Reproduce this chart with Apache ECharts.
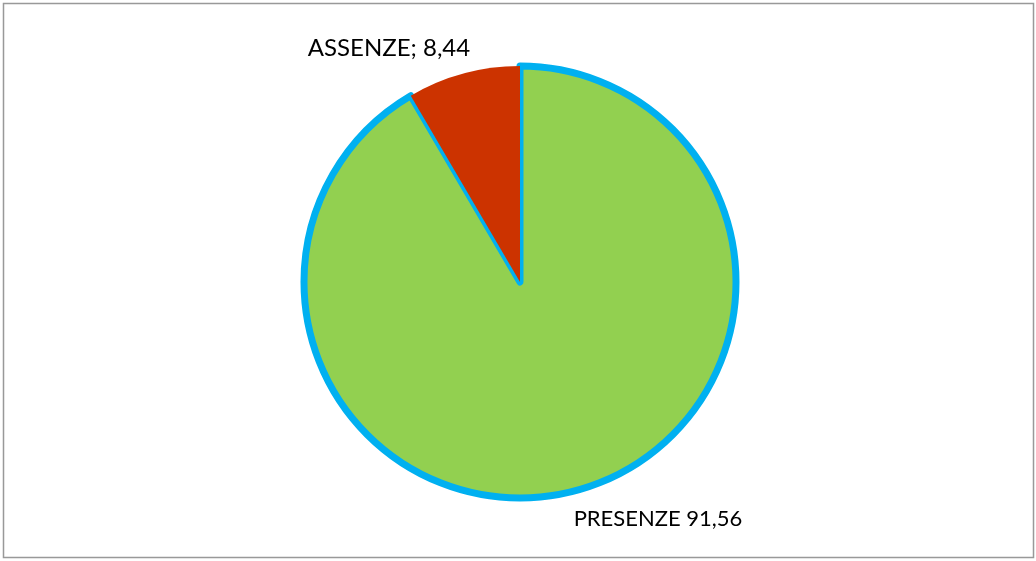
<!DOCTYPE html>
<html>
<head>
<meta charset="utf-8">
<script src="https://cdn.jsdelivr.net/npm/echarts@6/dist/echarts.min.js"></script>
<style>
  html, body { margin: 0; padding: 0; background: #fff; }
  #chart { width: 1036px; height: 561px; }
</style>
</head>
<body>
<div id="chart"></div>
<script>
    'use strict';
    // categories and values
    var categories = ['PRESENZE', 'ASSENZE'];
    var values = [91.56, 8.44];
    var labelTexts = ['PRESENZE 91,56', 'ASSENZE; 8,44'];
    var colors = ['#92D050', '#CC3300'];

    var labelSpots = [
        { x: 658, y: 519, size: 22 },
        { x: 389, y: 48, size: 24 }
    ];

    var data = categories.map(function(name, i) {
        return {
            name: name,
            value: values[i],
            itemStyle: {
                color: colors[i],
                borderColor: i === 0 ? '#00B0F0' : 'transparent',
                borderWidth: i === 0 ? 7 : 0,
                borderJoin: 'round'
            },
            label: { formatter: labelTexts[i], fontSize: labelSpots[i].size }
        };
    });

    var myChart = echarts.init(document.getElementById('chart'));
    myChart.setOption({
        backgroundColor: '#fff',
        animation: false,
        graphic: [{
            type: 'rect',
            shape: { x: 3.5, y: 3.5, width: 1030, height: 554 },
            style: { fill: 'none', stroke: '#999', lineWidth: 1.5 },
            z: 100
        }],
        series: [{
            type: 'pie',
            center: [520, 282],
            radius: [0, 216],
            startAngle: 90,
            clockwise: true,
            data: data,
            label: {
                show: true,
                position: 'outside',
                fontFamily: 'Lato, "Open Sans", sans-serif',
                color: '#000'
            },
            labelLine: { show: false },
            labelLayout: function(params) {
                var p = labelSpots[params.dataIndex];
                return { x: p.x, y: p.y, align: 'center', verticalAlign: 'middle' };
            },
            emphasis: { disabled: true }
        }]
    });
</script>
</body>
</html>
